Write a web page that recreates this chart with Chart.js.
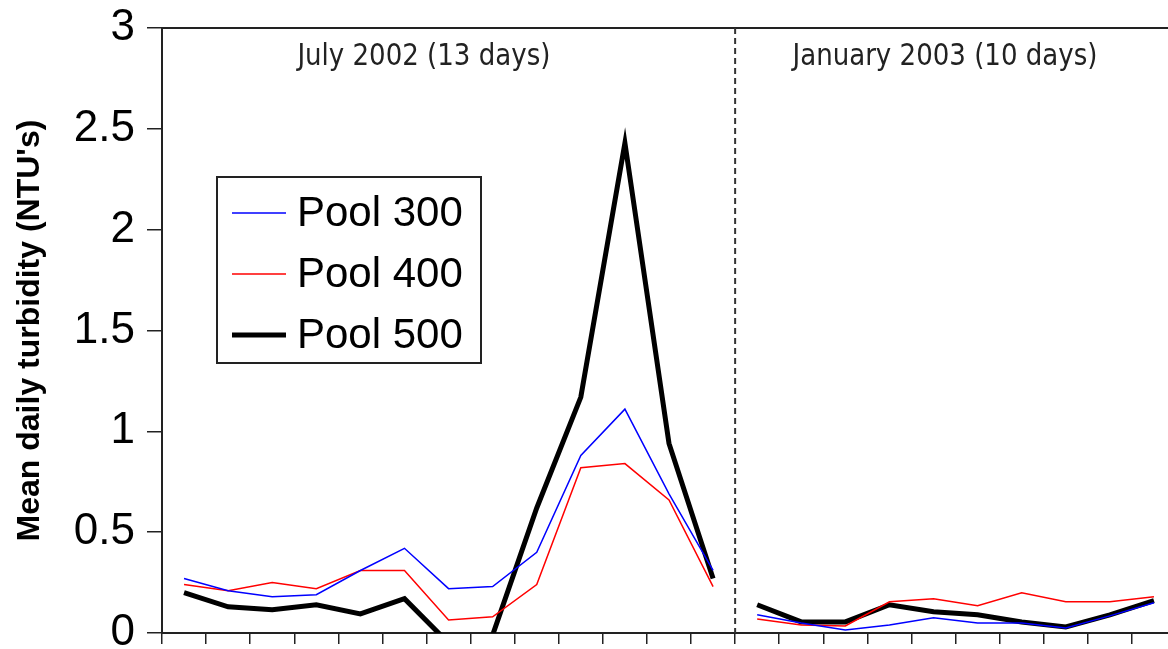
<!DOCTYPE html>
<html>
<head>
<meta charset="utf-8">
<script src="https://cdn.jsdelivr.net/npm/chart.js@4.4.1/dist/chart.umd.min.js"></script>
<style>
  html, body { margin: 0; padding: 0; background: #fff; overflow: hidden; }
  #wrap { width: 1186px; height: 649px; position: relative; }
</style>
</head>
<body>
<div id="wrap"><canvas id="turbChart"></canvas></div>
<script>
// day labels (not drawn, the axis only shows tick marks)
const julyDays = ['Jul-1', 'Jul-2', 'Jul-3', 'Jul-4', 'Jul-5', 'Jul-6', 'Jul-7', 'Jul-8', 'Jul-9', 'Jul-10', 'Jul-11', 'Jul-12', 'Jul-13'];
const janDays = ['Jan-1', 'Jan-2', 'Jan-3', 'Jan-4', 'Jan-5', 'Jan-6', 'Jan-7', 'Jan-8', 'Jan-9', 'Jan-10'];

const pool300July = [0.27, 0.21, 0.18, 0.19, 0.31, 0.42, 0.22, 0.23, 0.40, 0.88, 1.11, 0.69, 0.31];
const pool400July = [0.24, 0.21, 0.25, 0.22, 0.31, 0.31, 0.065, 0.08, 0.24, 0.82, 0.84, 0.66, 0.23];
const pool500July = [0.20, 0.13, 0.115, 0.14, 0.095, 0.17, -0.05, -0.01, 0.62, 1.17, 2.43, 0.94, 0.27];

const pool300Jan = [0.09, 0.05, 0.015, 0.04, 0.075, 0.05, 0.05, 0.025, 0.085, 0.15];
const pool400Jan = [0.07, 0.04, 0.035, 0.155, 0.17, 0.135, 0.20, 0.155, 0.155, 0.18];
const pool500Jan = [0.14, 0.055, 0.055, 0.14, 0.105, 0.09, 0.055, 0.03, 0.09, 0.16];

const periodLabels = ['July 2002 (13 days)', 'January 2003 (10 days)'];
const yTicks = [0, 0.5, 1, 1.5, 2, 2.5, 3];

const labels = [...julyDays, ...janDays];
const breakAt = julyDays.length - 1; // no line between last July day and first January day

// no line across the gap between the two sampling periods
const gapSegment = {
    borderColor: ctx => ctx.p0DataIndex === breakAt ? 'rgba(0,0,0,0)' : undefined
};

function makeSet(label, july, jan, color, width) {
    return {
        label: label,
        data: [...july, ...jan],
        borderColor: color,
        backgroundColor: color,
        borderWidth: width,
        pointRadius: 0,
        tension: 0,
        clip: 0,
        segment: gapSegment
    };
}

const narrowFont = "'Liberation Sans Narrow', 'DejaVu Sans Condensed', 'Liberation Sans', sans-serif";

const extras = {
    id: 'extras',
    afterDatasetsDraw(chart) {
        const { ctx, chartArea } = chart;
        const x = chart.scales.x;
        const step = (x.right - x.left) / labels.length;

        ctx.save();
        // top frame line
        ctx.strokeStyle = '#222';
        ctx.lineWidth = 2;
        ctx.beginPath();
        ctx.moveTo(chartArea.left, chartArea.top);
        ctx.lineTo(chartArea.right, chartArea.top);
        ctx.stroke();

        // dashed divider between July and January
        const divX = (x.getPixelForValue(breakAt) + x.getPixelForValue(breakAt + 1)) / 2;
        ctx.setLineDash([6, 4]);
        ctx.strokeStyle = '#333';
        ctx.lineWidth = 2;
        ctx.beginPath();
        ctx.moveTo(divX, chartArea.top);
        ctx.lineTo(divX, chartArea.bottom);
        ctx.stroke();
        ctx.setLineDash([]);

        // period labels
        const pos = [5.94, 17.76];
        const widths = [253, 305];
        ctx.fillStyle = '#222';
        ctx.textAlign = 'center';
        ctx.textBaseline = 'middle';
        ctx.font = '30px ' + narrowFont;
        periodLabels.forEach((t, i) => {
            const w = ctx.measureText(t).width;
            const sx = widths[i] / w;
            ctx.save();
            ctx.translate(x.left + pos[i] * step, chartArea.top + 29);
            ctx.scale(sx, 1);
            ctx.fillText(t, 0, 0);
            ctx.restore();
        });

        // legend box
        const bx = chartArea.left + 55, by = chartArea.top + 149, bw = 264, bh = 186;
        ctx.fillStyle = '#fff';
        ctx.fillRect(bx, by, bw, bh);
        ctx.strokeStyle = '#222';
        ctx.lineWidth = 2;
        ctx.strokeRect(bx, by, bw, bh);
        ctx.font = '42px "Liberation Sans", Arial, sans-serif';
        ctx.textAlign = 'left';
        chart.data.datasets.forEach((ds, i) => {
            const ly = by + 36 + i * 61;
            ctx.strokeStyle = ds.borderColor;
            ctx.lineWidth = ds.borderWidth;
            ctx.beginPath();
            ctx.moveTo(bx + 15, ly);
            ctx.lineTo(bx + 69, ly);
            ctx.stroke();
            ctx.fillStyle = '#000';
            ctx.fillText(ds.label, bx + 80, ly + 1);
        });
        ctx.restore();
    }
};

new Chart(document.getElementById('turbChart'), {
    type: 'line',
    data: {
        labels: labels,
        datasets: [
            makeSet('Pool 300', pool300July, pool300Jan, '#0000ff', 1.5),
            makeSet('Pool 400', pool400July, pool400Jan, '#ff0000', 1.5),
            makeSet('Pool 500', pool500July, pool500Jan, '#000000', 5)
        ]
    },
    options: {
        responsive: true,
        maintainAspectRatio: false,
        animation: false,
        layout: { padding: { top: 28, right: 10, left: 0, bottom: 0 } },
        plugins: {
            legend: { display: false },
            tooltip: { enabled: false }
        },
        scales: {
            x: {
                type: 'category',
                offset: true,
                grid: { offset: true, drawOnChartArea: false, tickLength: 11, color: '#222', lineWidth: 1.5 },
                border: { color: '#222', width: 2 },
                ticks: { display: false },
                afterFit: s => { s.height = 16; s.paddingLeft = 0; s.paddingRight = 0; }
            },
            y: {
                min: 0,
                max: 3,
                afterBuildTicks: s => { s.ticks = yTicks.map(v => ({ value: v })); },
                grid: { drawOnChartArea: false, tickLength: 15, color: '#222', lineWidth: 1.5 },
                border: { color: '#222', width: 2 },
                ticks: {
                    color: '#000',
                    padding: 12,
                    font: { family: "'Liberation Sans', Arial, sans-serif", size: 44 },
                    callback: v => String(v)
                },
                title: {
                    display: true,
                    text: "Mean daily turbidity (NTU's)",
                    color: '#000',
                    padding: { top: 11, bottom: 0 },
                    font: { family: "'Liberation Sans', Arial, sans-serif", size: 32, weight: 'bold' }
                },
                afterFit: s => { s.width = 162; s.paddingTop = 0; s.paddingBottom = 0; }
            }
        }
    },
    plugins: [extras]
});
</script>
</body>
</html>
